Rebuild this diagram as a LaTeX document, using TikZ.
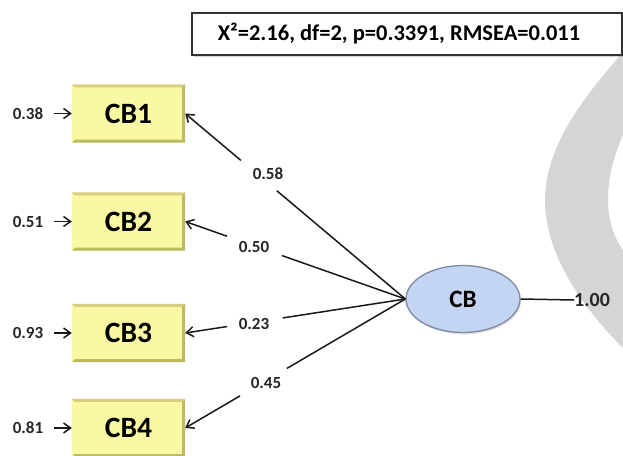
\documentclass[tikz,border=0pt]{standalone}
\usepackage{fontspec}
\setmainfont{Carlito}
\usetikzlibrary{arrows.meta,calc,shapes.geometric,shadows}

\definecolor{boxfill}{RGB}{250,247,165}
\definecolor{bevtop}{RGB}{214,206,128}
\definecolor{bevdark}{RGB}{190,186,100}
\definecolor{latfill}{RGB}{196,212,243}
\definecolor{latedge}{RGB}{125,138,160}
\definecolor{arcgray}{RGB}{213,213,213}

\begin{document}
\begin{tikzpicture}[x=1pt,y=-1pt,
  ind/.style={rectangle, fill=boxfill, minimum width=113pt, minimum height=58pt,
              inner sep=0pt, font=\fontsize{29.5}{34}\selectfont\bfseries},
  lat/.style={ellipse, fill=latfill, draw=latedge, line width=1.3pt,
              minimum width=114pt, minimum height=67pt, inner sep=0pt,
              drop shadow={opacity=0.22, shadow xshift=1pt, shadow yshift=-2pt},
              font=\fontsize{25}{29}\selectfont\bfseries},
  num/.style={font=\fontsize{17}{20}\selectfont\bfseries, text=black!85, inner sep=0pt},
  load/.style={line width=1.5pt, black!90},
  barb/.style={-{Straight Barb[length=7pt,width=10pt,line width=1.5pt]}},
  statbox/.style={rectangle, draw=black!80, line width=2pt, fill=white,
              minimum width=430pt, minimum height=42pt, inner sep=0pt,
              drop shadow={opacity=0.35, shadow xshift=1.5pt, shadow yshift=-2pt}},
]
\useasboundingbox (0,0) rectangle (623,455);
\clip (0,0) rectangle (623,455);

% grey crescent in the background
\fill[arcgray] (623,52) .. controls (595,85) and (545,140) .. (545,200)
  .. controls (545,260) and (590,315) .. (623,348)
  -- (623,250) .. controls (614,238) and (608,220) .. (608,200)
  .. controls (608,180) and (612,160) .. (623,135) -- cycle;

% fit statistics
\node[statbox] (stats) at (407,34) {};
\node[font=\fontsize{22.5}{26}\selectfont\bfseries, inner sep=0pt] at (399,34)
  {X²=2.16, df=2, p=0.3391, RMSEA=0.011};

% indicators
\node[ind] (cb1) at (128.5,113.5) {CB1};
\node[ind] (cb2) at (128.5,221.5) {CB2};
\node[ind] (cb3) at (128.5,333) {CB3};
\node[ind] (cb4) at (128.5,428) {CB4};

% bevelled edges of the indicator boxes
\foreach \b in {cb1,cb2,cb3,cb4}{
  \fill[bevtop] (\b.north west) -- (\b.north east) -- ($(\b.north east)+(-3,3)$)
    -- ($(\b.north west)+(3,3)$) -- cycle;
  \fill[bevdark] (\b.north east) -- (\b.south east) -- (\b.south west)
    -- ($(\b.south west)+(3,-3)$) -- ($(\b.south east)+(-3,-3)$)
    -- ($(\b.north east)+(-3,3)$) -- cycle;
}

% error terms
\node[num] (e1) at (28,113.5) {0.38};
\node[num] (e2) at (28,221.5) {0.51};
\node[num] (e3) at (28,333) {0.93};
\node[num] (e4) at (28,428) {0.81};
\foreach \e/\b in {e1/cb1,e2/cb2,e3/cb3,e4/cb4}
  \draw[load, barb, shorten <=11pt] (\e) -- (\b);

% latent variable
\node[lat] (cb) at (463,299) {CB};
\node[num, font=\fontsize{20}{23}\selectfont\bfseries, anchor=west] (var) at (574,300) {1.00};
\draw[load] (cb.east) -- (var.west);

% loadings, each line broken around its value
\draw[load] (cb.west) -- ($(cb.west)!0.584!(cb1.east)$);
\draw[load, barb] ($(cb.west)!0.747!(cb1.east)$) -- (cb1.east);
\node[num] at (268,174) {0.58};

\draw[load] (cb.west) -- ($(cb.west)!0.561!(cb2.east)$);
\draw[load, barb] ($(cb.west)!0.81!(cb2.east)$) -- (cb2.east);
\node[num] at (254,247) {0.50};

\draw[load] (cb.west) -- ($(cb.west)!0.557!(cb3.east)$);
\draw[load, barb] ($(cb.west)!0.81!(cb3.east)$) -- (cb3.east);
\node[num] at (254,324) {0.23};

\draw[load] (cb.west) -- ($(cb.west)!0.538!(cb4.east)$);
\draw[load, barb] ($(cb.west)!0.751!(cb4.east)$) -- (cb4.east);
\node[num] at (266,383) {0.45};
\end{tikzpicture}
\end{document}
